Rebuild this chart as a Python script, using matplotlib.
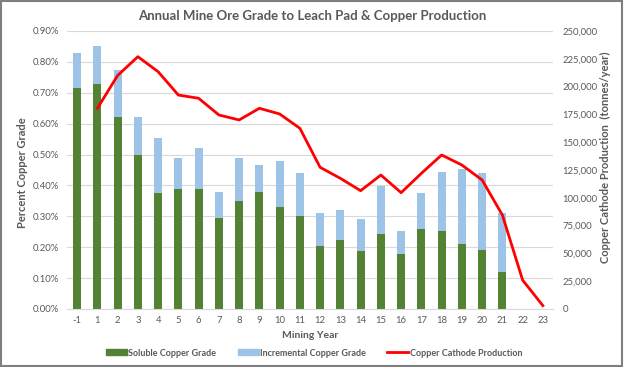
import matplotlib
matplotlib.use("Agg")
import matplotlib.pyplot as plt
from matplotlib.ticker import FuncFormatter, MultipleLocator
from matplotlib.patches import Rectangle
from matplotlib.lines import Line2D

years = ["-1", "1", "2", "3", "4", "5", "6", "7", "8", "9", "10", "11", "12",
         "13", "14", "15", "16", "17", "18", "19", "20", "21", "22", "23"]
soluble = [0.715, 0.73, 0.62, 0.50, 0.375, 0.39, 0.39, 0.295, 0.35, 0.38, 0.33, 0.30,
           0.204, 0.222, 0.189, 0.242, 0.178, 0.259, 0.253, 0.210, 0.191, 0.121, None, None]
total = [0.83, 0.85, 0.775, 0.62, 0.555, 0.49, 0.52, 0.38, 0.49, 0.465, 0.48, 0.44,
         0.312, 0.321, 0.290, 0.398, 0.251, 0.376, 0.443, 0.453, 0.439, 0.312, None, None]
production = [None, 180500, 210000, 226900, 213400, 192400, 189500, 174500, 170000,
              180500, 175400, 162500, 127400, 117500, 106400, 120500, 104600, 122000,
              138500, 129500, 116000, 84500, 26000, 3000]

GREEN = "#548235"
BLUE = "#9DC3E6"
RED = "#FF0000"
GRAY = "#595959"
plt.rcParams["font.family"] = ["Lato", "DejaVu Sans"]

fig = plt.figure(figsize=(6.24, 3.67), dpi=100)
fig.patch.set_facecolor("white")
fig.add_artist(Rectangle((0.002, 0.003), 0.995, 0.994, transform=fig.transFigure,
                         fill=False, edgecolor="#7F7F7F", linewidth=1.5))

ax = fig.add_axes([67/624, 1-309/367, (553-67)/624, (309-31)/367])
ax2 = ax.twinx()

x = list(range(len(years)))
bx = [i for i, v in enumerate(soluble) if v is not None]
sol = [soluble[i] for i in bx]
inc = [total[i] - soluble[i] for i in bx]
w = 0.4
ax.bar(bx, sol, width=w, color=GREEN, zorder=2)
ax.bar(bx, inc, width=w, bottom=sol, color=BLUE, zorder=2)

lx = [i for i, v in enumerate(production) if v is not None]
ly = [production[i] for i in lx]
ax2.plot(lx, ly, color=RED, linewidth=2, zorder=3, solid_joinstyle="round")

ax.set_xlim(-0.5, len(years) - 0.5)
ax.set_ylim(0, 0.9)
ax2.set_ylim(0, 250000)
ax.yaxis.set_major_locator(MultipleLocator(0.1))
ax2.yaxis.set_major_locator(MultipleLocator(25000))
ax.yaxis.set_major_formatter(FuncFormatter(lambda v, p: f"{v:.2f}%"))
ax2.yaxis.set_major_formatter(FuncFormatter(lambda v, p: f"{v:,.0f}"))
ax.set_xticks(x)
ax.set_xticklabels(years)

ax.grid(axis="y", color="#D9D9D9", linewidth=0.8, zorder=0)
ax.set_axisbelow(True)
for a in (ax, ax2):
    for s in a.spines.values():
        s.set_visible(False)
    a.tick_params(length=0, labelsize=6.8, labelcolor=GRAY)
ax.spines["bottom"].set_visible(True)
ax.spines["bottom"].set_color("#D9D9D9")
ax.tick_params(axis="y", pad=6)
ax.tick_params(axis="x", pad=5)
ax2.tick_params(axis="y", pad=7)

fig.text(23/624, 1-173/367, "Percent Copper Grade", rotation=90, ha="center", va="center",
         fontsize=8, fontweight="bold", color=GRAY)
fig.text(605/624, 1-157/367, "Copper Cathode Production  (tonnes/year)", rotation=90,
         ha="center", va="center", fontsize=8, fontweight="bold", color=GRAY)
fig.text(310/624, 1-335/367, "Mining Year", ha="center", va="center",
         fontsize=7.5, fontweight="bold", color=GRAY)
fig.text(312/624, 1-16/367, "Annual Mine Ore Grade to Leach Pad & Copper Production",
         ha="center", va="center", fontsize=9.5, fontweight="bold", color=GRAY)

handles = [Rectangle((0, 0), 1, 1, color=GREEN), Rectangle((0, 0), 1, 1, color=BLUE),
           Line2D([0], [0], color=RED, linewidth=2)]
labels = ["Soluble Copper Grade", "Incremental Copper Grade", "Copper Cathode Production"]
fig.legend(handles, labels, loc="center", bbox_to_anchor=(314/624, 1-353/367), ncol=3,
           frameon=False, labelcolor=GRAY, handlelength=2.3, handleheight=0.6,
           columnspacing=2.4, handletextpad=0.15, prop={"weight": "bold", "size": 6.5})

fig.savefig("out.png", dpi=100)
